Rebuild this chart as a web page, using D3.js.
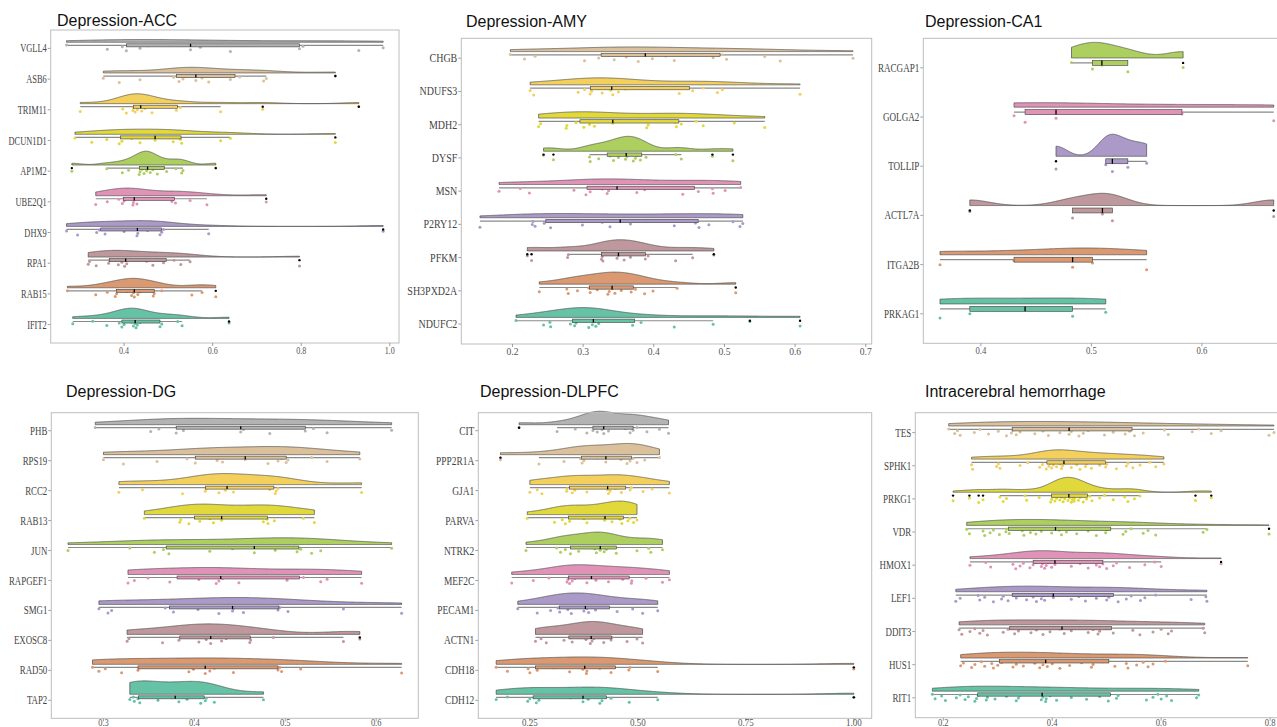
<!DOCTYPE html>
<html>
<head>
<meta charset="utf-8">
<script src="https://cdn.jsdelivr.net/npm/d3@7"></script>
<style>
  body { margin: 0; background: #fff; }
  svg text { font-family: "Liberation Serif", "Times New Roman", serif; }
  svg text.title { font-family: "Liberation Sans", Arial, sans-serif; }
</style>
</head>
<body>
<svg id="chart" width="1277" height="727"></svg>
<script>
// ---- data: genes listed top to bottom, values per gene ----
const accGenes = ["VGLL4", "ASB6", "TRIM11", "DCUN1D1", "AP1M2", "UBE2Q1", "DHX9", "RPA1", "RAB15", "IFIT2"];
const accValues = [
  [0.270,0.362,0.396,0.405,0.436,0.453,0.550,0.572,0.640,0.796,0.804,0.930,0.985],
  [0.353,0.389,0.436,0.512,0.524,0.533,0.540,0.562,0.576,0.591,0.640,0.661,0.715,0.721,0.877],
  [0.301,0.397,0.405,0.420,0.421,0.425,0.430,0.435,0.440,0.447,0.463,0.518,0.527,0.618,0.713,0.930],
  [0.289,0.327,0.361,0.389,0.395,0.417,0.436,0.470,0.483,0.511,0.527,0.530,0.618,0.640,0.877],
  [0.282,0.361,0.396,0.410,0.434,0.436,0.440,0.445,0.451,0.455,0.459,0.465,0.475,0.496,0.517,0.530,0.533,0.607],
  [0.336,0.362,0.388,0.396,0.400,0.420,0.421,0.423,0.429,0.508,0.511,0.516,0.549,0.587,0.721],
  [0.270,0.295,0.338,0.344,0.357,0.400,0.429,0.431,0.453,0.481,0.485,0.489,0.591,0.985],
  [0.319,0.322,0.337,0.365,0.367,0.387,0.395,0.401,0.406,0.451,0.465,0.489,0.513,0.528,0.549,0.796],
  [0.272,0.336,0.362,0.380,0.383,0.406,0.417,0.421,0.423,0.431,0.436,0.466,0.468,0.485,0.553,0.576,0.607],
  [0.284,0.329,0.361,0.389,0.395,0.400,0.417,0.421,0.425,0.427,0.430,0.436,0.481,0.485,0.521,0.531,0.637]
];
const accTicks = [0.4, 0.6, 0.8, 1.0];

const amyGenes = ["CHGB", "NDUFS3", "MDH2", "DYSF", "MSN", "P2RY12", "PFKM", "SH3PXD2A", "NDUFC2"];
const amyValues = [
  [0.197,0.217,0.232,0.302,0.322,0.336,0.344,0.361,0.378,0.398,0.417,0.429,0.484,0.497,0.503,0.557,0.579,0.682],
  [0.225,0.230,0.293,0.302,0.310,0.312,0.324,0.327,0.339,0.342,0.350,0.360,0.436,0.455,0.470,0.490,0.497,0.607],
  [0.237,0.240,0.276,0.277,0.290,0.301,0.309,0.312,0.316,0.342,0.390,0.392,0.430,0.432,0.439,0.460,0.470,0.514,0.557],
  [0.244,0.258,0.309,0.310,0.322,0.338,0.343,0.350,0.358,0.360,0.362,0.371,0.374,0.377,0.381,0.389,0.431,0.439,0.483,0.512],
  [0.181,0.211,0.224,0.287,0.304,0.310,0.327,0.334,0.336,0.360,0.376,0.387,0.441,0.463,0.483,0.484,0.501,0.523],
  [0.154,0.228,0.229,0.232,0.245,0.254,0.299,0.327,0.338,0.367,0.391,0.429,0.459,0.464,0.478,0.512,0.522,0.526],
  [0.221,0.227,0.278,0.279,0.326,0.327,0.328,0.348,0.350,0.358,0.367,0.368,0.388,0.392,0.431,0.455,0.485],
  [0.238,0.277,0.279,0.292,0.308,0.310,0.320,0.335,0.337,0.341,0.345,0.354,0.364,0.368,0.374,0.387,0.399,0.433,0.516],
  [0.205,0.244,0.253,0.254,0.282,0.286,0.288,0.290,0.308,0.313,0.316,0.318,0.322,0.337,0.370,0.382,0.429,0.484,0.536,0.607]
];
const amyTicks = [0.2, 0.3, 0.4, 0.5, 0.6, 0.7];

const ca1Genes = ["RACGAP1", "GOLGA2", "TOLLIP", "ACTL7A", "ITGA2B", "PRKAG1"];
const ca1Values = [
  [0.482,0.501,0.5095,0.533,0.583],
  [0.430,0.440,0.468,0.582,0.665],
  [0.468,0.513,0.519,0.533,0.550],
  [0.390,0.483,0.510,0.519,0.665],
  [0.363,0.430,0.483,0.501,0.550],
  [0.363,0.390,0.440,0.483,0.513]
];
const ca1Ticks = [0.4, 0.5, 0.6];

const dgGenes = ["PHB", "RPS19", "RCC2", "RAB13", "JUN", "RAPGEF1", "SMG1", "EXOSC8", "RAD50", "TAP2"];
const dgValues = [
  [0.291,0.352,0.361,0.380,0.388,0.408,0.451,0.454,0.483,0.522,0.531,0.546,0.617],
  [0.300,0.322,0.359,0.392,0.401,0.425,0.427,0.431,0.456,0.481,0.492,0.496,0.501,0.503,0.529,0.546,0.582],
  [0.317,0.343,0.387,0.412,0.413,0.427,0.434,0.438,0.443,0.483,0.489,0.490,0.492,0.584],
  [0.345,0.384,0.385,0.394,0.406,0.417,0.421,0.430,0.461,0.476,0.480,0.481,0.488,0.520,0.532],
  [0.261,0.329,0.356,0.366,0.372,0.417,0.442,0.466,0.489,0.503,0.513,0.517,0.529,0.539,0.617],
  [0.327,0.334,0.349,0.373,0.405,0.424,0.427,0.431,0.449,0.502,0.520,0.539,0.546,0.584],
  [0.295,0.305,0.309,0.368,0.377,0.404,0.427,0.442,0.443,0.454,0.492,0.494,0.503,0.564,0.628],
  [0.326,0.328,0.365,0.383,0.385,0.405,0.413,0.418,0.430,0.435,0.461,0.462,0.487,0.564,0.582],
  [0.288,0.295,0.302,0.320,0.338,0.340,0.394,0.399,0.412,0.417,0.422,0.443,0.492,0.494,0.496,0.517,0.628],
  [0.329,0.333,0.334,0.338,0.340,0.360,0.375,0.383,0.392,0.407,0.412,0.413,0.422,0.476]
];
const dgTicks = [0.3, 0.4, 0.5, 0.6];

const dlpfcGenes = ["CIT", "PPP2R1A", "GJA1", "PARVA", "NTRK2", "MEF2C", "PECAM1", "ACTN1", "CDH18", "CDH12"];
const dlpfcValues = [
  [0.225,0.313,0.355,0.382,0.396,0.402,0.406,0.417,0.421,0.432,0.471,0.482,0.489,0.498,0.521,0.550,0.571],
  [0.182,0.271,0.329,0.367,0.371,0.375,0.406,0.426,0.461,0.475,0.482,0.489,0.498,0.516,0.550],
  [0.250,0.267,0.278,0.335,0.336,0.348,0.354,0.363,0.382,0.430,0.432,0.436,0.448,0.462,0.482,0.485,0.512,0.533,0.573],
  [0.244,0.307,0.325,0.332,0.342,0.375,0.382,0.423,0.425,0.440,0.459,0.463,0.477,0.482,0.490,0.498],
  [0.241,0.312,0.321,0.332,0.344,0.363,0.400,0.404,0.413,0.416,0.422,0.427,0.450,0.498,0.525,0.530,0.557],
  [0.208,0.258,0.294,0.336,0.338,0.342,0.348,0.354,0.382,0.403,0.419,0.432,0.465,0.485,0.486,0.519,0.557,0.573],
  [0.222,0.267,0.298,0.315,0.319,0.338,0.346,0.375,0.382,0.386,0.402,0.429,0.452,0.488,0.511,0.546],
  [0.263,0.276,0.288,0.329,0.344,0.348,0.380,0.390,0.394,0.398,0.421,0.438,0.440,0.475,0.498,0.511],
  [0.172,0.198,0.246,0.250,0.267,0.305,0.342,0.373,0.381,0.382,0.412,0.438,0.479,0.482,0.546,1.000],
  [0.172,0.198,0.245,0.250,0.265,0.271,0.344,0.373,0.385,0.412,0.417,0.438,0.480,0.546,1.000]
];
const dlpfcTicks = [0.25, 0.50, 0.75, 1.00];

const ichGenes = ["TES", "SPHK1", "PRKG1", "VDR", "HMOX1", "LEF1", "DDIT3", "HUS1", "RIT1"];
const ichValues = [
  [0.210,0.221,0.226,0.231,0.257,0.267,0.283,0.301,0.316,0.325,0.328,0.334,0.341,0.353,0.368,0.383,0.393,0.414,0.423,0.431,0.435,0.449,0.457,0.466,0.496,0.512,0.518,0.534,0.542,0.551,0.567,0.606,0.613,0.657,0.669,0.692,0.710,0.798,0.807],
  [0.252,0.254,0.298,0.301,0.304,0.341,0.355,0.377,0.382,0.389,0.394,0.396,0.399,0.402,0.405,0.408,0.414,0.417,0.419,0.424,0.435,0.445,0.451,0.461,0.463,0.472,0.487,0.496,0.498,0.500,0.518,0.536,0.539,0.548,0.561,0.579,0.590,0.605],
  [0.218,0.248,0.265,0.273,0.304,0.310,0.316,0.350,0.353,0.376,0.397,0.399,0.402,0.405,0.408,0.411,0.414,0.417,0.420,0.423,0.426,0.429,0.432,0.435,0.437,0.438,0.440,0.441,0.444,0.448,0.451,0.457,0.463,0.469,0.473,0.487,0.496,0.512,0.533,0.539,0.551,0.561,0.663,0.692],
  [0.243,0.248,0.273,0.276,0.286,0.292,0.303,0.315,0.316,0.321,0.345,0.348,0.360,0.365,0.370,0.380,0.388,0.399,0.413,0.417,0.426,0.431,0.445,0.466,0.481,0.498,0.500,0.530,0.535,0.545,0.567,0.576,0.590,0.677,0.684,0.798],
  [0.249,0.278,0.287,0.328,0.333,0.341,0.347,0.359,0.365,0.370,0.380,0.382,0.386,0.389,0.393,0.399,0.405,0.417,0.435,0.451,0.466,0.481,0.484,0.487,0.493,0.500,0.512,0.518,0.542,0.570,0.588,0.600,0.710],
  [0.223,0.231,0.264,0.267,0.276,0.292,0.307,0.310,0.319,0.334,0.338,0.353,0.365,0.371,0.380,0.383,0.386,0.402,0.419,0.435,0.449,0.461,0.481,0.496,0.500,0.504,0.521,0.536,0.545,0.562,0.570,0.590,0.655,0.682,0.684],
  [0.229,0.234,0.249,0.258,0.267,0.273,0.281,0.310,0.319,0.331,0.338,0.347,0.361,0.371,0.383,0.396,0.414,0.422,0.435,0.451,0.466,0.475,0.484,0.487,0.500,0.512,0.548,0.561,0.585,0.600,0.613,0.619,0.677,0.680],
  [0.232,0.237,0.252,0.258,0.270,0.276,0.289,0.292,0.300,0.307,0.328,0.334,0.341,0.347,0.368,0.377,0.383,0.388,0.391,0.400,0.414,0.432,0.454,0.472,0.475,0.493,0.515,0.536,0.539,0.555,0.567,0.576,0.585,0.608,0.759],
  [0.180,0.185,0.197,0.204,0.224,0.231,0.240,0.246,0.258,0.261,0.264,0.279,0.281,0.286,0.295,0.316,0.334,0.338,0.341,0.380,0.383,0.388,0.389,0.396,0.408,0.435,0.451,0.463,0.487,0.503,0.518,0.521,0.573,0.585,0.594,0.600,0.610,0.619,0.665,0.669]
];
const ichTicks = [0.2, 0.4, 0.6, 0.8];

// Set2 ramped to 10 colours (bottom row gets the first one)
const set2 = ["#66C2A5", "#FC8D62", "#8DA0CB", "#E78AC3", "#A6D854", "#FFD92F", "#E5C494", "#B3B3B3"];
const ramp = d3.piecewise(d3.interpolateRgb, set2);
const palette = d3.range(10).map(i => ramp(i / 9));

// ---- panel placement (sx = horizontal squeeze of the axis text, as in the source image) ----
const panels = [
  { title: "Depression-ACC", genes: accGenes, values: accValues, ticks: accTicks, fmt: ".1f", sx: 0.73,
    tx: 57, ty: 26, x0: 50.7, x1: 399, y0: 30, y1: 343 },
  { title: "Depression-AMY", genes: amyGenes, values: amyValues, ticks: amyTicks, fmt: ".1f", sx: 0.87,
    tx: 466, ty: 27, x0: 461.3, x1: 871.7, y0: 38.3, y1: 344 },
  { title: "Depression-CA1", genes: ca1Genes, values: ca1Values, ticks: ca1Ticks, fmt: ".1f", sx: 0.79,
    tx: 925, ty: 27, x0: 923.3, x1: 1290.4, y0: 38.3, y1: 343.3 },
  { title: "Depression-DG", genes: dgGenes, values: dgValues, ticks: dgTicks, fmt: ".1f", sx: 0.77,
    tx: 66, ty: 397, x0: 51.3, x1: 418.3, y0: 412.7, y1: 718.3 },
  { title: "Depression-DLPFC", genes: dlpfcGenes, values: dlpfcValues, ticks: dlpfcTicks, fmt: ".2f", sx: 0.82,
    tx: 480, ty: 397, x0: 478.3, x1: 871.7, y0: 412.7, y1: 718.3 },
  { title: "Intracerebral hemorrhage", genes: ichGenes, values: ichValues, ticks: ichTicks, fmt: ".1f", sx: 0.78,
    tx: 925, ty: 397, x0: 915.3, x1: 1291, y0: 412.7, y1: 717.7 }
];

const svg = d3.select("#chart");

// bandwidth like R's bw.nrd0
function bwNrd0(v) {
  const s = d3.deviation(v);
  const iqr = d3.quantile(v, 0.75) - d3.quantile(v, 0.25);
  let lo = Math.min(s, iqr / 1.34);
  if (!(lo > 0)) lo = s || Math.abs(v[0]) || 1;
  return 0.9 * lo * Math.pow(v.length, -0.2);
}

function density(v) {
  const bw = bwNrd0(v);
  const lo = d3.min(v), hi = d3.max(v);
  const grid = d3.range(512).map(i => lo + (hi - lo) * i / 511);
  const k = 1 / Math.sqrt(2 * Math.PI);
  return grid.map(x => [x, d3.mean(v, d => k * Math.exp(-0.5 * ((x - d) / bw) ** 2)) / bw]);
}

function boxStats(v) {
  const q1 = d3.quantile(v, 0.25), med = d3.quantile(v, 0.5), q3 = d3.quantile(v, 0.75);
  const r = 1.5 * (q3 - q1);
  const inside = v.filter(d => d >= q1 - r && d <= q3 + r);
  return { q1, med, q3, lo: d3.min(inside), hi: d3.max(inside),
           out: v.filter(d => d < q1 - r || d > q3 + r) };
}

function drawPanel(p) {
  const n = p.genes.length;
  const all = p.values.flat();
  const [mn, mx] = d3.extent(all);
  const pad = (mx - mn) * 0.05;
  const x = d3.scaleLinear().domain([mn - pad, mx + pad]).range([p.x0, p.x1]);
  const y = d3.scaleLinear().domain([0.4, n + 0.6]).range([p.y1, p.y0]);
  const unit = (p.y1 - p.y0) / (n + 0.2);

  const g = svg.append("g");

  g.append("text").attr("class", "title")
    .attr("x", p.tx).attr("y", p.ty)
    .attr("font-size", 16).attr("fill", "#111")
    .text(p.title);

  const dens = p.values.map(v => density(v.slice().sort(d3.ascending)));
  const maxD = d3.max(dens, d => d3.max(d, e => e[1]));

  p.genes.forEach((gene, i) => {
    const v = p.values[i].slice().sort(d3.ascending);
    const col = palette[n - 1 - i];
    const yc = y(n - i);
    const base = yc - 0.2 * unit;
    const boxY = yc - 0.1 * unit;
    const st = boxStats(v);

    // half violin
    const area = d3.area()
      .x(d => x(d[0]))
      .y0(base)
      .y1(d => base - d[1] / maxD * 0.45 * unit);
    g.append("path").datum(dens[i])
      .attr("d", area)
      .attr("fill", col)
      .attr("stroke", "#4a4a4a").attr("stroke-width", 0.7);

    // whisker
    g.append("line")
      .attr("x1", x(st.lo)).attr("x2", x(st.hi))
      .attr("y1", boxY).attr("y2", boxY)
      .attr("stroke", "#8a8a8a").attr("stroke-width", 1.2);

    // jittered points
    g.selectAll(null).data(v).enter().append("circle")
      .attr("cx", d => x(d))
      .attr("cy", (d, j) => yc + ((((j * 0.6180339887 + i * 0.377) % 1) - 0.5) * 0.22 * unit))
      .attr("r", 1.5)
      .attr("fill", col);

    // box
    g.append("rect")
      .attr("x", x(st.q1)).attr("width", x(st.q3) - x(st.q1))
      .attr("y", boxY - 0.05 * unit).attr("height", 0.1 * unit)
      .attr("fill", col)
      .attr("stroke", "#3c3c3c").attr("stroke-width", 0.6);
    g.append("line")
      .attr("x1", x(st.med)).attr("x2", x(st.med))
      .attr("y1", boxY - 0.05 * unit).attr("y2", boxY + 0.05 * unit)
      .attr("stroke", "#000").attr("stroke-width", 1.3);

    // outliers
    g.selectAll(null).data(st.out).enter().append("circle")
      .attr("cx", d => x(d)).attr("cy", boxY)
      .attr("r", 1.2).attr("fill", "#000");

    // gene label + tick
    g.append("line")
      .attr("x1", p.x0 - 3).attr("x2", p.x0)
      .attr("y1", yc).attr("y2", yc)
      .attr("stroke", "#888").attr("stroke-width", 0.8);
    g.append("text")
      .attr("transform", `translate(${p.x0 - 4},${yc}) scale(${p.sx},1)`)
      .attr("dy", "0.35em")
      .attr("text-anchor", "end")
      .attr("font-size", 11.5).attr("fill", "#444")
      .text(gene);
  });

  // frame
  g.append("rect")
    .attr("x", p.x0).attr("y", p.y0)
    .attr("width", p.x1 - p.x0).attr("height", p.y1 - p.y0)
    .attr("fill", "none").attr("stroke", "#bdbdbd").attr("stroke-width", 1);

  // x ticks (bottom row kept inside the window)
  const fmt = d3.format(p.fmt);
  const labelY = Math.min(p.y1 + 11, 726);
  p.ticks.forEach(t => {
    g.append("line")
      .attr("x1", x(t)).attr("x2", x(t))
      .attr("y1", p.y1).attr("y2", p.y1 + 3)
      .attr("stroke", "#888").attr("stroke-width", 0.8);
    g.append("text")
      .attr("transform", `translate(${x(t)},${labelY}) scale(${p.sx},1)`)
      .attr("text-anchor", "middle")
      .attr("font-size", 11).attr("fill", "#555")
      .text(fmt(t));
  });
}

panels.forEach(drawPanel);
</script>
</body>
</html>
